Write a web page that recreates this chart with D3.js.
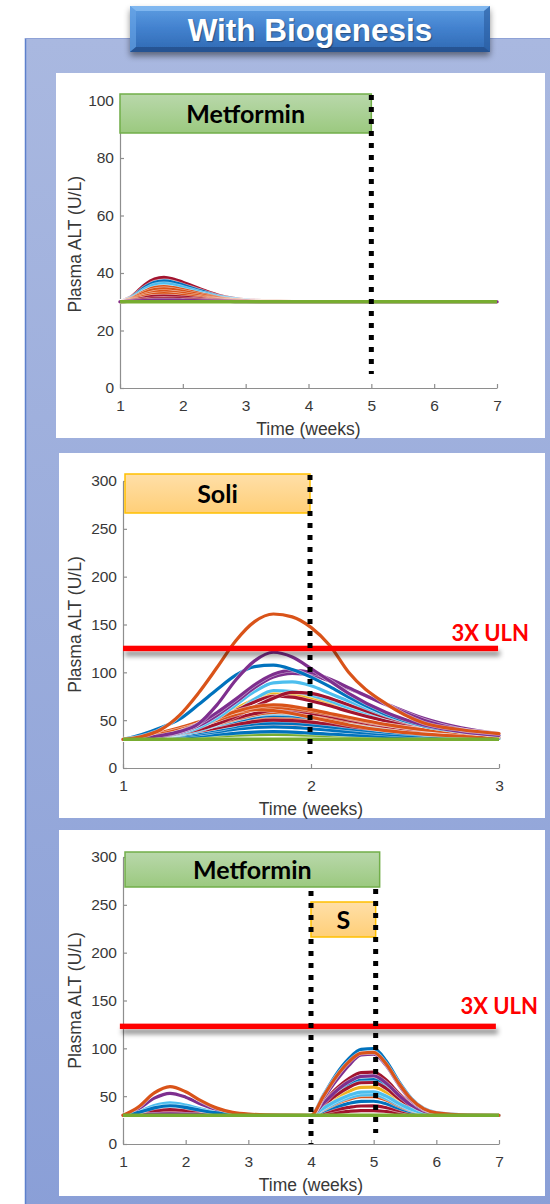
<!DOCTYPE html>
<html><head><meta charset="utf-8">
<script src="https://cdn.jsdelivr.net/npm/d3@7"></script>
<style>body{margin:0;background:#fff}svg{display:block}</style>
</head><body>
<script>
// ---------------- DATA ----------------
const titleText = "With Biogenesis";
const yLabel = "Plasma ALT (U/L)";
const xLabel = "Time (weeks)";
const ulnLabel = "3X ULN";
const baselineALT = 30;

// Panel 1: Metformin only
const p1Times = [1, 1.2, 1.4, 1.55, 1.7, 1.85, 2.0, 2.3, 2.6, 3.0, 3.5, 4, 7];
const p1Colors = ["darkred","blue","lightblue","orange","orange","orange","orange","darkred","darkred","purple"];
const p1Values = [
  [30, 32.1, 36.0, 37.9, 38.5, 37.9, 36.8, 34.3, 32.1, 30.7, 30.2, 30, 30],
  [30, 31.8, 35.1, 36.8, 37.3, 36.8, 35.8, 33.7, 31.8, 30.6, 30.1, 30, 30],
  [30, 31.6, 34.4, 35.9, 36.3, 35.9, 35.0, 33.2, 31.6, 30.5, 30.1, 30, 30],
  [30, 31.3, 33.7, 34.9, 35.3, 34.9, 34.2, 32.7, 31.3, 30.4, 30.1, 30, 30],
  [30, 31.1, 33.2, 34.2, 34.5, 34.2, 33.6, 32.3, 31.1, 30.4, 30.1, 30, 30],
  [30, 30.9, 32.5, 33.3, 33.6, 33.3, 32.9, 31.8, 30.9, 30.3, 30.1, 30, 30],
  [30, 30.7, 32.0, 32.6, 32.8, 32.6, 32.2, 31.4, 30.7, 30.2, 30.1, 30, 30],
  [30, 30.5, 31.4, 31.9, 32.0, 31.9, 31.6, 31.0, 30.5, 30.2, 30, 30, 30],
  [30, 30.3, 30.8, 31.1, 31.2, 31.1, 31.0, 30.6, 30.3, 30.1, 30, 30, 30],
  [30, 30.2, 30.4, 30.6, 30.6, 30.6, 30.5, 30.3, 30.2, 30, 30, 30, 30]
];
const p1XTicks = [1,2,3,4,5,6,7];
const p1YTicks = [0,20,40,60,80,100];
const p1Domain = {x:[1,7], y:[0,100]};
const p1Metformin = [1, 5];
const p1Stops = [5];

// Panel 2: Solithromycin
const p2Times = [1,1.1,1.2,1.3,1.4,1.5,1.6,1.7,1.8,1.9,2.0,2.1,2.2,2.4,2.6,2.8,3.0];
const p2Colors = ["green","darkred","blue","blue","blue","orange","darkred","blue","lightblue","orange","darkred",
  "yellow","lightblue","darkred","darkred","orange","orange","orange","lightblue","purple","purple","blue","purple","orange"];
const p2Values = [
  [30,30.3,30.8,31.5,32.5,33.5,34.3,34.8,35,34.8,34.3,33.8,33.2,32.3,31.6,31.2,31],
  [30,30.8,32,34,36.5,39,41.5,43.5,44,43.5,42,40.5,38.5,35.5,33.5,32,31.5],
  [30,30.5,31,32,33.5,35,36.5,37.5,38,37.5,36.5,35.5,34.5,33,32,31.5,31],
  [30,30.8,32,33.5,35.5,38,40.5,42.5,43,42.5,41,39.5,38,35.5,33.5,32.5,31.5],
  [30,31,32.5,34.5,37,40,43.5,46,47,46.5,45,43,41,37.5,35,33.5,32.5],
  [30,31,33,35.5,38.5,42,46,50,52,51.5,50,47.5,45,40.5,37,35,33.5],
  [30,31,33,35.5,38.5,42,45.5,48.5,50,49.5,48,46,43.5,39.5,36.5,34.5,33],
  [30,31.5,34,37,40.5,44.5,49,53,55,54.5,52.5,50,47,42,38,35.5,34],
  [30,31,33,36,40,45,50.5,55,57,56.5,54.5,51.5,48,42,37.5,35,33.5],
  [30,31.5,34,37.5,41.5,46,51,55.5,58,57.5,55.5,52.5,49,43,38.5,36,34.5],
  [30,31.5,34,37.5,42,47,52,57,60,59.5,57,54,50,43.5,39,36,34.5],
  [30,31.5,34,38,44,52,62,72,78,77,73,67,61,50,43,38,35],
  [30,31,32.5,35,39,46,58,72,81,80,76,70,63,52,44,39,35.5],
  [30,31.5,34,38,44,51,60,69,75,74,70,65,59,49,42,37.5,35],
  [30,31,33,36,40,46,54,64,73,79,78,73,66,53,44,38.5,35.5],
  [30,32,35,39,44,50,56,61,63,62,59.5,56,52,45,40,37,35],
  [30,33,37,42,48,54,59,61,60,57,53,49,45,39,35.5,33.5,32.5],
  [30,32,35.5,40,45.5,52,59,64,66,64.5,61,57,53,45.5,40,37,35],
  [30,31,33,36,42,52,66,80,89,90,86,78,70,55,44,38,34.5],
  [30,31,33,37,44,55,69,84,95,99,97,91,83,67,52,42,36],
  [30,31,33,38,46,58,72,87,98,102,100,93,84,66,50,40,35],
  [30,35,42,51,66,82,97,106,107.5,103,95,85,74,56,44,38,34],
  [30,31.5,34,38,46,66,92,112,121,116,104,91,78,58,45,38,34],
  [30,33,40,55,78,105,133,153,161,158,147,128,100,67,47,40,36]
];
const p2XTicks = [1,2,3];
const p2YTicks = [0,50,100,150,200,250,300];
const p2Domain = {x:[1,3], y:[0,300]};
const p2Soli = [1, 2];
const p2Stops = [2];
const p2Uln = 125;

// Panel 3: Metformin then Solithromycin
const p3Times = [1,1.25,1.5,1.75,2,2.25,2.5,2.75,3,3.5,4,4.2,4.4,4.6,4.8,5,5.2,5.4,5.6,5.8,6,6.5,7];
const p3Colors = ["darkred","darkred","blue","orange","lightblue","yellow","blue","darkred","darkred",
  "lightblue","purple","purple","blue","orange"];
const p3Values = [
  [30,30.3,30.8,31,30.8,30.5,30.3,30.1,30,30,30, 31.5,33,34.2,34.9,34.9,34,32.5,31.3,30.5,30.2,30,30],
  [30,31.5,33.9,35,34.1,32.5,31.3,30.5,30.2,30,30, 33,36,38.3,39.7,39.8,38,35,32.5,31,30.4,30,30],
  [30,30.9,32.3,33,32.5,31.5,30.8,30.3,30.1,30,30, 34.5,39,42.5,44.6,44.7,42,37.5,33.8,31.5,30.6,30.1,30],
  [30,31.2,33.1,34,33.3,32,31,30.4,30.2,30,30, 36,42,46.6,49.4,49.6,46,40,35,32,30.8,30.1,30],
  [30,32.1,35.5,37,35.7,33.5,31.8,30.7,30.3,30,30, 36.6,43.2,48.3,51.3,51.6,47.6,41,35.5,32.2,30.9,30.1,30],
  [30,30.9,32.3,33,32.5,31.5,30.8,30.3,30.1,30,30, 39,48,54.9,59.1,59.4,54,45,37.5,33,31.2,30.2,30],
  [30,30.6,31.6,32,31.6,31,30.5,30.2,30.1,30,30, 41.4,52.8,61.5,66.9,67.2,60.4,49,39.5,33.8,31.5,30.2,30],
  [30,31.2,33.1,34,33.3,32,31,30.4,30.2,30,30, 40.5,51,59.1,64,64.3,58,47.5,38.8,33.5,31.4,30.2,30],
  [30,31.8,34.7,36,34.9,33,31.5,30.6,30.2,30,30, 43.8,57.6,68.2,74.6,75.1,66.8,53,41.5,34.6,31.8,30.2,30],
  [30,33.9,40.1,43,40.7,36.5,33.3,31.3,30.5,30.1,30, 37.5,45,50.8,54.3,54.5,50,42.5,36.3,32.5,31,30.1,30],
  [30,36.9,47.9,53,48.9,41.5,35.8,32.3,30.9,30.1,30, 42.6,55.2,64.9,70.7,71.2,63.6,51,40.5,34.2,31.7,30.2,30],
  [30,30.5,31.2,31.5,31.2,30.8,30.4,30.2,30,30,30, 48,66,82,93,94,82,62,45.5,36,32.2,30.3,30],
  [30,33,37.8,40,38.2,35,32.5,31,30.4,30.1,30, 51.3,72.6,88.9,98.9,99.6,86.8,65.5,47.8,37.1,32.8,30.4,30],
  [30,39,53.4,60,54.6,45,37.5,33,31.2,30.2,30, 50.1,70.2,85.6,95,95.7,83.6,63.5,46.8,36.7,32.7,30.3,30]
];
const p3XTicks = [1,2,3,4,5,6,7];
const p3YTicks = [0,50,100,150,200,250,300];
const p3Domain = {x:[1,7], y:[0,300]};
const p3Metformin = [1, 5];
const p3Soli = [4, 5];
const p3Stops = [4, 5];
const p3Uln = 123;

// ---------------- STYLE ----------------
const palette = {blue:"#0072BD", orange:"#D95319", yellow:"#EDB120", purple:"#7E2F8E",
  green:"#77AC30", lightblue:"#4DBEEE", darkred:"#A2142F"};
const AXIS_FONT = "'Liberation Sans', Arial, Helvetica, sans-serif";
const BOX_FONT = "Lato, 'Open Sans', sans-serif";

const svg = d3.select("body").append("svg").attr("width",550).attr("height",1204);
const defs = svg.append("defs");
function vgrad(id, stops){
  const g = defs.append("linearGradient").attr("id",id).attr("x1",0).attr("y1",0).attr("x2",0).attr("y2",1);
  stops.forEach(s=>g.append("stop").attr("offset",s[0]).attr("stop-color",s[1]));
}
vgrad("bgGrad",[[0,"#A9B8E0"],[1,"#8A9FD7"]]);
vgrad("titleGrad",[[0,"#5E9EE2"],[0.45,"#4483D0"],[1,"#2F69B3"]]);
vgrad("greenGrad",[[0,"#B9D8AB"],[1,"#9BC97F"]]);
vgrad("orangeGrad",[[0,"#FFDFA8"],[1,"#FFCF78"]]);
const f1 = defs.append("filter").attr("id","lineShadow").attr("filterUnits","userSpaceOnUse")
  .attr("x",0).attr("y",0).attr("width",560).attr("height",1210);
f1.append("feDropShadow").attr("dx",2).attr("dy",5).attr("stdDeviation",2.6)
  .attr("flood-color","#000").attr("flood-opacity",0.45);
const f2 = defs.append("filter").attr("id","titleShadow").attr("filterUnits","userSpaceOnUse")
  .attr("x",0).attr("y",0).attr("width",560).attr("height",120);
f2.append("feDropShadow").attr("dx",0).attr("dy",4).attr("stdDeviation",3)
  .attr("flood-color","#000").attr("flood-opacity",0.45);

// Outer background panel
svg.append("rect").attr("x",25).attr("y",38).attr("width",540).attr("height",1180).attr("fill","url(#bgGrad)");
svg.append("line").attr("x1",25.5).attr("x2",25.5).attr("y1",38).attr("y2",1204).attr("stroke","#5D80CC").attr("stroke-width",1.5);
svg.append("line").attr("x1",25).attr("x2",550).attr("y1",38.5).attr("y2",38.5).attr("stroke","#8FA2D6").attr("stroke-width",1);

// Title box
const tg = svg.append("g");
tg.append("rect").attr("x",130).attr("y",6).attr("width",360).attr("height",46).attr("fill","url(#titleGrad)").attr("filter","url(#titleShadow)");
tg.append("polygon").attr("points","130,6 490,6 484,11 136,11").attr("fill","#8CC0F4").attr("opacity",0.75);
tg.append("polygon").attr("points","130,6 136,11 136,47 130,52").attr("fill","#6AA6E8").attr("opacity",0.6);
tg.append("polygon").attr("points","490,6 484,11 484,47 490,52").attr("fill","#2A5C9F").attr("opacity",0.6);
tg.append("polygon").attr("points","130,52 136,47 484,47 490,52").attr("fill","#234E8A").attr("opacity",0.8);
tg.append("text").attr("x",310).attr("y",41).attr("text-anchor","middle")
  .attr("font-family",AXIS_FONT).attr("font-weight","bold").attr("font-size",31.5).attr("fill","#fff")
  .style("text-shadow","1px 1px 1px rgba(0,0,0,0.35)").text(titleText);

// ---------------- PANEL DRAWING ----------------
function drawPanel(o){
  const g = svg.append("g");
  g.append("rect").attr("x",o.panel[0]).attr("y",o.panel[1]).attr("width",o.panel[2]).attr("height",o.panel[3]).attr("fill","#fff");
  const x = d3.scaleLinear().domain(o.domain.x).range([o.left,o.right]);
  const y = d3.scaleLinear().domain(o.domain.y).range([o.bottom,o.top]);

  // axes
  const ax = g.append("g").attr("transform",`translate(0,${o.bottom})`)
    .call(d3.axisBottom(x).tickValues(o.xTicks).tickFormat(d3.format("d")).tickSizeInner(-4).tickSizeOuter(0).tickPadding(11.5));
  const ay = g.append("g").attr("transform",`translate(${o.left},0)`)
    .call(d3.axisLeft(y).tickValues(o.yTicks).tickFormat(d3.format("d")).tickSizeInner(-4).tickSizeOuter(0).tickPadding(6));
  [ax,ay].forEach(a=>{
    a.selectAll("path,line").attr("stroke","#8E8E8E").attr("stroke-width",1.2);
    a.selectAll("text").attr("fill","#383838").attr("font-size",15.5).attr("font-family",AXIS_FONT);
  });
  g.append("text").attr("x",(o.left+o.right)/2).attr("y",o.bottom+46.5).attr("text-anchor","middle")
    .attr("font-family",AXIS_FONT).attr("font-size",17.5).attr("fill","#383838").text(xLabel);
  g.append("text").attr("transform",`translate(80.5,${(o.top+o.bottom)/2}) rotate(-90)`).attr("text-anchor","middle")
    .attr("font-family",AXIS_FONT).attr("font-size",17.5).attr("fill","#383838").text(yLabel);

  // curves
  const line = d3.line().x((d,i)=>x(o.times[i])).y(d=>y(d)).curve(d3.curveMonotoneX);
  const cg = g.append("g").attr("fill","none").attr("stroke-linejoin","round").attr("stroke-linecap","round");
  o.values.forEach((vals,i)=>{
    cg.append("path").attr("d",line(vals)).attr("stroke","#fff").attr("stroke-width",4.4).attr("opacity",0.6);
    cg.append("path").attr("d",line(vals)).attr("stroke",palette[o.colors[i]]).attr("stroke-width",3.2);
  });
  // baseline
  g.append("line").attr("x1",x(o.domain.x[0])).attr("x2",x(o.domain.x[1]))
    .attr("y1",y(baselineALT)).attr("y2",y(baselineALT)).attr("stroke",palette.green).attr("stroke-width",3.4);

  // treatment boxes
  (o.boxes||[]).forEach(b=>{
    const bx = x(b.range[0]) + b.padL, bw = x(b.range[1]) + b.padR - bx;
    g.append("rect").attr("x",bx).attr("y",b.y).attr("width",bw).attr("height",b.h)
      .attr("fill",b.kind==="met"?"url(#greenGrad)":"url(#orangeGrad)")
      .attr("stroke",b.kind==="met"?"#72AE4A":"#FFC000").attr("stroke-width",1.5);
    g.append("text").attr("x",bx+bw/2).attr("y",b.y+b.h/2+9).attr("text-anchor","middle")
      .attr("font-family",BOX_FONT).attr("font-weight","bold").attr("font-size",25).attr("fill","#000").text(b.label);
  });

  // ULN line
  if(o.uln!==undefined){
    g.append("rect").attr("x",x(o.ulnRange[0])).attr("y",y(o.uln)-2.7).attr("width",x(o.ulnRange[1])-x(o.ulnRange[0]))
      .attr("height",5.4).attr("fill","#FF0000").attr("filter","url(#lineShadow)");
    g.append("text").attr("x",o.ulnTextX).attr("y",o.ulnTextY).attr("text-anchor","end")
      .attr("font-family",BOX_FONT).attr("font-weight","bold").attr("font-size",22).attr("fill","#FF0000").text(ulnLabel);
  }

  // dotted stop lines
  o.stops.forEach((s,i)=>{
    g.append("line").attr("x1",x(s)+o.stopShift[i]).attr("x2",x(s)+o.stopShift[i])
      .attr("y1",o.stopY[i][0]).attr("y2",o.stopY[i][1])
      .attr("stroke","#000").attr("stroke-width",5).attr("stroke-dasharray","5 7");
  });
}

drawPanel({
  panel:[56,73,489,365], left:120, right:497, top:100.5, bottom:388,
  domain:p1Domain, xTicks:p1XTicks, yTicks:p1YTicks,
  times:p1Times, values:p1Values, colors:p1Colors,
  boxes:[{kind:"met", label:"Metformin", range:p1Metformin, padL:0, padR:0, y:94, h:39}],
  stops:p1Stops, stopShift:[0], stopY:[[95,374]]
});
drawPanel({
  panel:[59,453,486,365], left:123, right:499, top:481, bottom:768,
  domain:p2Domain, xTicks:p2XTicks, yTicks:p2YTicks,
  times:p2Times, values:p2Values, colors:p2Colors,
  boxes:[{kind:"soli", label:"Soli", range:p2Soli, padL:2, padR:-1, y:474, h:39}],
  uln:p2Uln, ulnRange:[1,2.995], ulnTextX:529, ulnTextY:641,
  stops:p2Stops, stopShift:[-1], stopY:[[475,754]]
});
drawPanel({
  panel:[59,830,486,366], left:123, right:499, top:857, bottom:1144,
  domain:p3Domain, xTicks:p3XTicks, yTicks:p3YTicks,
  times:p3Times, values:p3Values, colors:p3Colors,
  boxes:[{kind:"met", label:"Metformin", range:p3Metformin, padL:2, padR:6, y:852, h:35},
         {kind:"soli", label:"S", range:p3Soli, padL:0, padR:2, y:902, h:35}],
  uln:p3Uln, ulnRange:[0.95,6.95], ulnTextX:538, ulnTextY:1014,
  stops:p3Stops, stopShift:[0,2], stopY:[[891,1144],[889,1133]]
});
</script>
</body></html>
